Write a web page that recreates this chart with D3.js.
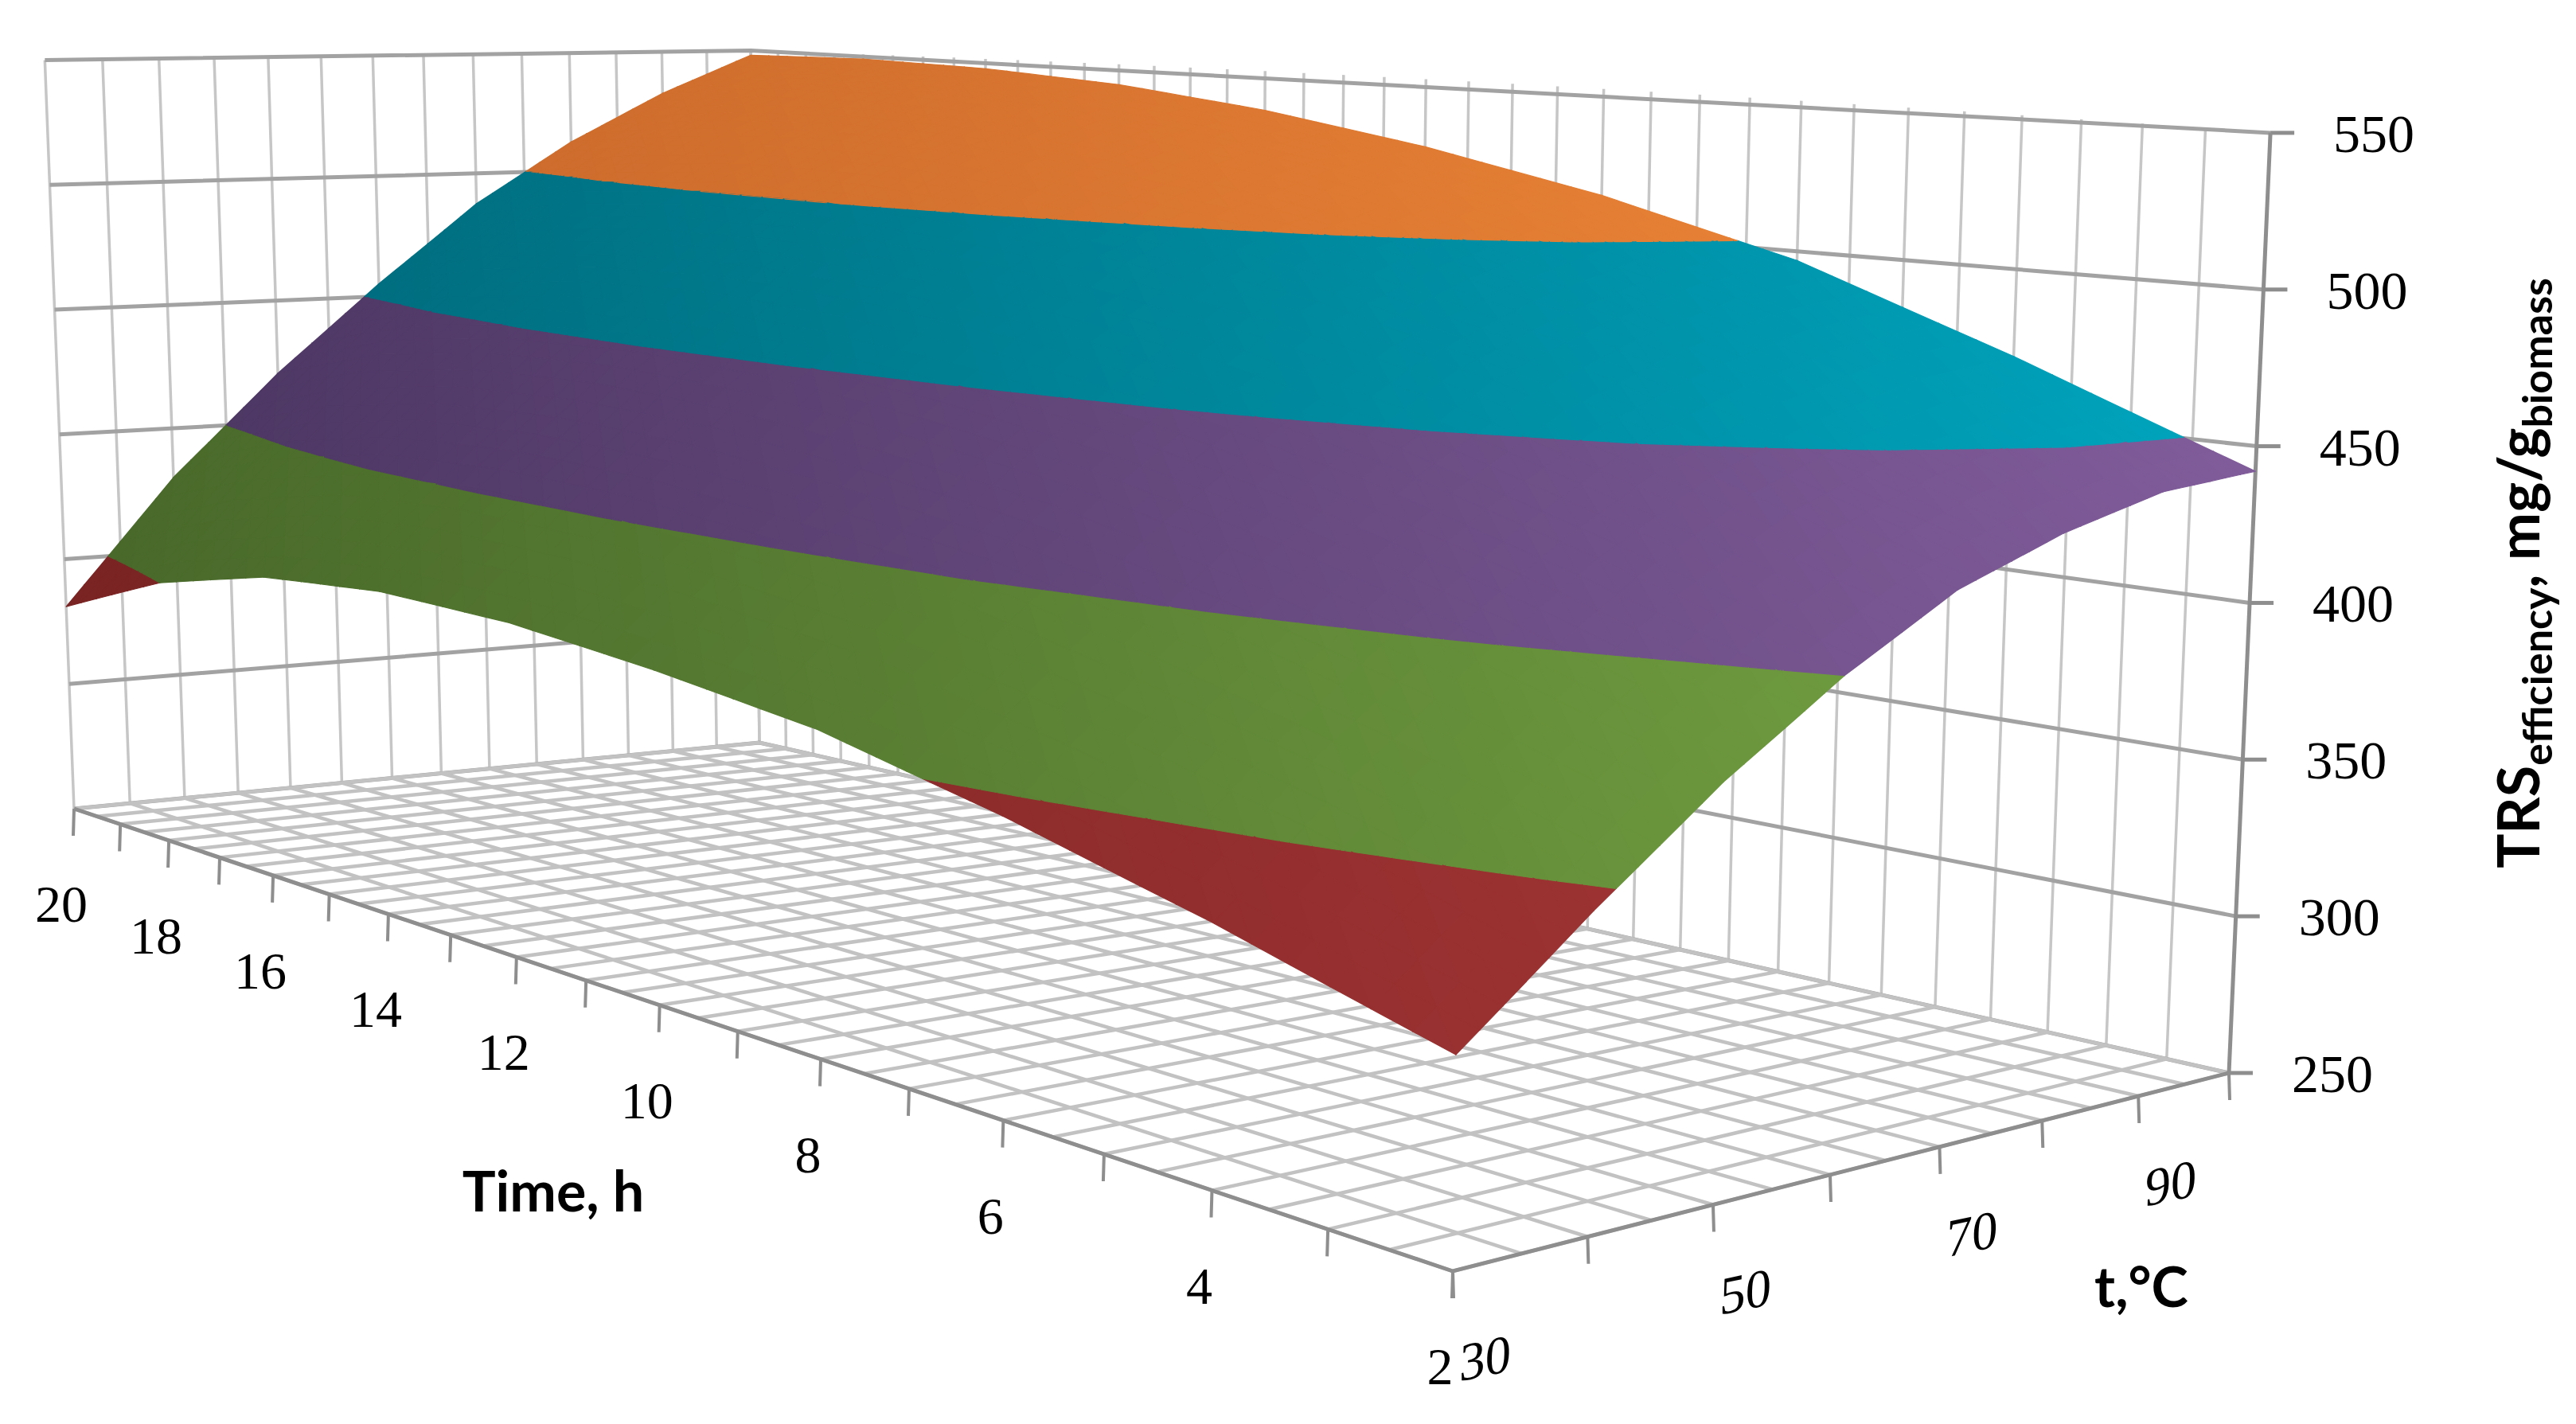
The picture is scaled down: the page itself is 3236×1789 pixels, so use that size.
<!DOCTYPE html>
<html>
<head>
<meta charset="utf-8">
<script src="https://cdn.jsdelivr.net/npm/d3@7"></script>
<style>
  body { margin: 0; background: #fff; }
  svg { display: block; }
</style>
</head>
<body>
<svg id="chart" width="3236" height="1789"></svg>
<script>
// ---- data ----
var times = [2, 4, 6, 8, 10, 12, 14, 16, 18, 20];          // h
var temps = [30, 40, 50, 60, 70, 80, 90, 100];               // °C
// TRS efficiency, one row per time, one column per temperature
var trs = [
  [312, 345, 375, 400, 420, 432, 440, 442],
  [330, 366, 396, 422, 443, 457, 466, 470],
  [345, 382, 414, 441, 464, 479, 490, 495],
  [357, 395, 427, 455, 479, 495, 506, 512],
  [363, 402, 435, 465, 489, 506, 518, 525],
  [367, 407, 441, 471, 496, 514, 527, 535],
  [367, 408, 443, 474, 500, 519, 533, 542],
  [362, 405, 441, 472, 500, 520, 536, 546],
  [350, 395, 434, 466, 496, 517, 536, 548],
  [331, 380, 420, 455, 487, 512, 532, 548]
];
var timeTicks = [20, 18, 16, 14, 12, 10, 8, 6, 4, 2];
var tempTicks = [30, 50, 70, 90];
var zTicks = [250, 300, 350, 400, 450, 500, 550];
var bandColors = [
  ["#3d6fa8", "#5a8fd0"],   // 250-300
  ["#7a2424", "#aa3838"],   // 300-350
  ["#48682a", "#76a443"],   // 350-400
  ["#4a3560", "#805c9a"],   // 400-450
  ["#006676", "#00a4bd"],   // 450-500
  ["#c4652a", "#f08838"]    // 500-550
];

var svg = d3.select("#chart");

// floor corners (u = time 2..20, v = temp 30..100)
var P00 = [1825, 1597], P10 = [93, 1016], P11 = [954, 933], P01 = [2800, 1348];
var uS = d3.scaleLinear().domain([2, 20]).range([0, 1]);
var vS = d3.scaleLinear().domain([30, 100]).range([0, 1]);
var zS = d3.scaleLinear().domain([250, 550]).range([0, 300]);

// homography unit square -> floor quad
var H = (function() {
  var x0 = P00[0], y0 = P00[1], x1 = P10[0], y1 = P10[1];
  var x2 = P11[0], y2 = P11[1], x3 = P01[0], y3 = P01[1];
  var sx = x0 - x1 + x2 - x3, sy = y0 - y1 + y2 - y3;
  var dx1 = x1 - x2, dx2 = x3 - x2, dy1 = y1 - y2, dy2 = y3 - y2;
  var den = dx1 * dy2 - dx2 * dy1;
  var g = (sx * dy2 - dx2 * sy) / den, h = (dx1 * sy - sx * dy1) / den;
  return { a: x1 - x0 + g * x1, b: x3 - x0 + h * x3, c: x0,
           d: y1 - y0 + g * y1, e: y3 - y0 + h * y3, f: y0, g: g, h: h };
})();

function project(t, T, z) {
  var u = uS(t), v = vS(T);
  var w = H.g * u + H.h * v + 1;
  var fx = (H.a * u + H.b * v + H.c) / w;
  var fy = (H.d * u + H.e * v + H.f) / w;
  var k = 1 / (0.228 + 0.091 * u + 0.026 * v);
  var up = zS(z) * k;
  return [fx + up * (fx - 1363) * 3.07e-5, fy - up];
}

function line(pts, color, width) {
  svg.append("path")
    .attr("d", d3.line()(pts))
    .attr("fill", "none")
    .attr("stroke", color)
    .attr("stroke-width", width);
}

var halfTimes = d3.range(2, 20.01, 0.5);
var fiveTemps = d3.range(30, 100.01, 5);

// left wall (time = 20) and back wall (temp = 100)
fiveTemps.forEach(function(T) {
  line([project(20, T, 250), project(20, T, 550)], "#c6c6c6", 3.5);
});
halfTimes.forEach(function(t) {
  line([project(t, 100, 250), project(t, 100, 550)], "#c6c6c6", 3.5);
});
zTicks.forEach(function(z) {
  line([project(20, 30, z), project(20, 100, z), project(2, 100, z)], "#a2a2a2", 5);
});

// floor grid
halfTimes.forEach(function(t) {
  line([project(t, 30, 250), project(t, 100, 250)], "#c2c2c2", 4.5);
});
fiveTemps.forEach(function(T) {
  line([project(2, T, 250), project(20, T, 250)], "#c2c2c2", 4.5);
});
line([project(20, 30, 250), project(2, 30, 250), project(2, 100, 250)], "#8e8e8e", 5);

// ticks
d3.range(2, 20.01, 1).forEach(function(t) {
  var p = project(t, 30, 250);
  line([p, [p[0] - 1, p[1] + 34]], "#8e8e8e", 4);
});
d3.range(30, 100.01, 10).forEach(function(T) {
  var p = project(2, T, 250);
  line([p, [p[0] + 1, p[1] + 34]], "#8e8e8e", 4);
});
line([project(2, 100, 250), project(2, 100, 550)], "#8e8e8e", 5);
zTicks.forEach(function(z) {
  var p = project(2, 100, z);
  line([p, [p[0] + 30, p[1]]], "#8e8e8e", 5);
});

// surface: subdivide each cell into triangles, clip each triangle into
// value bands, paint back to front
var N = 6;
function zAt(i, j, a, b) {
  return trs[i][j] * (1 - a) * (1 - b) + trs[i + 1][j] * a * (1 - b) +
         trs[i][j + 1] * (1 - a) * b + trs[i + 1][j + 1] * a * b;
}
// clip polygon (points [t, T, z]) to z >= lo (sign 1) or z <= hi (sign -1)
function clip(poly, level, sign) {
  var out = [];
  for (var n = 0; n < poly.length; n++) {
    var p = poly[n], q = poly[(n + 1) % poly.length];
    var dp = sign * (p[2] - level), dq = sign * (q[2] - level);
    if (dp >= 0) out.push(p);
    if ((dp >= 0) !== (dq >= 0)) {
      var s = dp / (dp - dq);
      out.push([p[0] + (q[0] - p[0]) * s, p[1] + (q[1] - p[1]) * s, p[2] + (q[2] - p[2]) * s]);
    }
  }
  return out;
}
var bandEdges = [250, 300, 350, 400, 450, 500, 550];
var pieces = [];
for (var i = 0; i < times.length - 1; i++) {
  for (var j = 0; j < temps.length - 1; j++) {
    for (var si = 0; si < N; si++) {
      for (var sj = 0; sj < N; sj++) {
        var a0 = si / N, a1 = (si + 1) / N, b0 = sj / N, b1 = (sj + 1) / N;
        var t0 = times[i] + (times[i + 1] - times[i]) * a0;
        var t1 = times[i] + (times[i + 1] - times[i]) * a1;
        var T0 = temps[j] + (temps[j + 1] - temps[j]) * b0;
        var T1 = temps[j] + (temps[j + 1] - temps[j]) * b1;
        var c00 = [t0, T0, zAt(i, j, a0, b0)], c10 = [t1, T0, zAt(i, j, a1, b0)];
        var c11 = [t1, T1, zAt(i, j, a1, b1)], c01 = [t0, T1, zAt(i, j, a0, b1)];
        var tm = (t0 + t1) / 2, Tm = (T0 + T1) / 2;
        var depth = 0.091 * uS(tm) + 0.026 * vS(Tm);
        [[c00, c10, c11], [c00, c11, c01]].forEach(function(tri, ti) {
          for (var b = 0; b < 6; b++) {
            var poly = clip(clip(tri, bandEdges[b], 1), bandEdges[b + 1], -1);
            if (poly.length < 3) continue;
            var pts = poly.map(function(p) { return project(p[0], p[1], p[2]); });
            pieces.push({ pts: pts, band: b, depth: depth + ti * 1e-6,
                          xm: d3.mean(pts, function(p) { return p[0]; }) });
          }
        });
      }
    }
  }
}
pieces.sort(function(p, q) { return q.depth - p.depth; });

var shade = d3.scaleLinear().domain([100, 2800]).range([0, 1]).clamp(true);
function pieceColor(d) {
  var c = bandColors[d.band];
  return d3.interpolateRgb(c[0], c[1])(shade(d.xm));
}

svg.append("g").selectAll("path")
  .data(pieces)
  .join("path")
  .attr("d", function(d) { return d3.line()(d.pts) + "Z"; })
  .attr("fill", pieceColor)
  .attr("stroke", pieceColor)
  .attr("stroke-width", 1.2)
  .attr("stroke-linejoin", "round");

// tick labels
var serif = "'Liberation Serif', 'Times New Roman', serif";
timeTicks.forEach(function(t) {
  var p = project(t, 30, 250);
  svg.append("text")
    .attr("x", p[0] - 16).attr("y", p[1] + 142)
    .attr("text-anchor", "middle")
    .attr("font-family", serif).attr("font-size", 66)
    .text(t);
});
tempTicks.forEach(function(T) {
  var p = project(2, T, 250);
  svg.append("text")
    .attr("transform", "translate(" + (p[0] + 40) + "," + (p[1] + 132) + ") rotate(-12) skewX(-14)")
    .attr("text-anchor", "middle")
    .attr("font-family", serif).attr("font-size", 66)
    .text(T);
});
zTicks.forEach(function(z) {
  var p = project(2, 100, z);
  svg.append("text")
    .attr("x", p[0] + 130).attr("y", p[1] + 24)
    .attr("text-anchor", "middle")
    .attr("font-family", serif).attr("font-size", 68)
    .text(z);
});

// axis titles
var sans = "Lato, 'Open Sans', sans-serif";
svg.append("text")
  .attr("x", 695).attr("y", 1522)
  .attr("text-anchor", "middle")
  .attr("font-family", sans).attr("font-weight", "bold").attr("font-size", 70)
  .text("Time, h");
svg.append("text")
  .attr("x", 2690).attr("y", 1642)
  .attr("text-anchor", "middle")
  .attr("font-family", sans).attr("font-weight", "bold").attr("font-size", 70)
  .text("t,°C");

var ytitle = svg.append("text")
  .attr("transform", "translate(3190,720) rotate(-90)")
  .attr("text-anchor", "middle")
  .attr("font-family", sans).attr("font-weight", "bold").attr("font-size", 72);
ytitle.append("tspan").text("TRS");
ytitle.append("tspan").attr("font-size", 52).attr("dy", 16).text("efficiency");
ytitle.append("tspan").attr("dy", -16).text(", mg/g");
ytitle.append("tspan").attr("font-size", 52).attr("dy", 16).text("biomass");
</script>
</body>
</html>
